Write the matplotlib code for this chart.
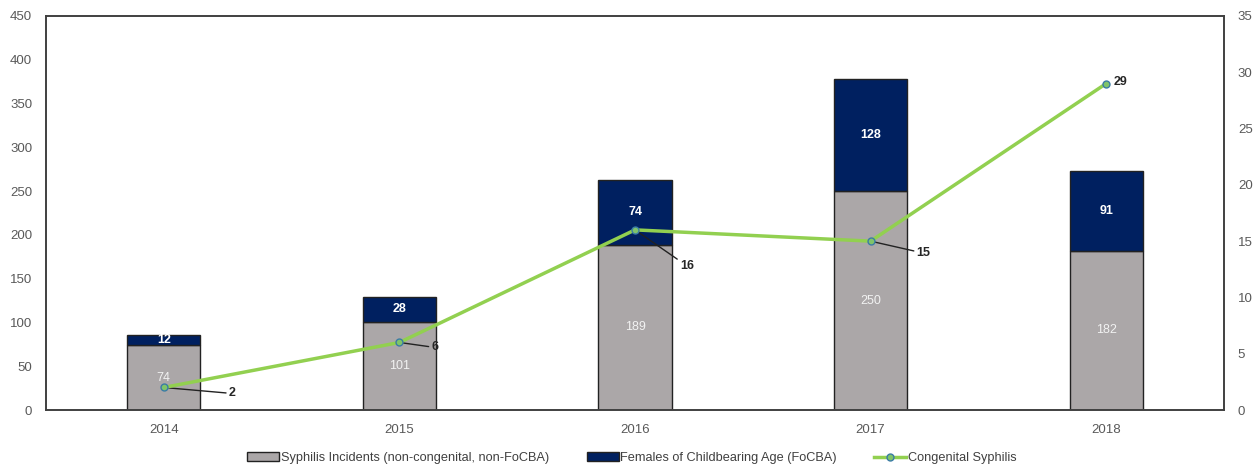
import matplotlib.pyplot as plt
import numpy as np

# Data
years = ['2014', '2015', '2016', '2017', '2018']
incidents = [74, 101, 189, 250, 182]
focba = [12, 28, 74, 128, 91]
congenital = [2, 6, 16, 15, 29]

# label offsets for the congenital line (pixels: right, down)
label_offsets = [(65, 6), (32, 5), (45, 36), (46, 12), (7, -2)]
leader = [True, True, True, True, False]

grey = '#ABA7A8'
navy = '#002060'
green = '#92D050'
text_grey = '#595959'

plt.rcParams['font.family'] = ['Liberation Sans', 'DejaVu Sans']

fig = plt.figure(figsize=(12.54, 4.65), dpi=100)
ax = fig.add_axes([46 / 1254, 55 / 465, 1178 / 1254, 394 / 465])
ax2 = ax.twinx()

x = np.arange(len(years))
w = 0.31
b1 = ax.bar(x, incidents, w, color=grey, edgecolor='#222222', linewidth=1.0,
            label='Syphilis Incidents (non-congenital, non-FoCBA)', zorder=2)
b2 = ax.bar(x, focba, w, bottom=incidents, color=navy, edgecolor='#222222', linewidth=1.0,
            label='Females of Childbearing Age (FoCBA)', zorder=2)

for xi, v in zip(x, incidents):
    ax.text(xi, v / 2, str(v), ha='center', va='center', color='#F2F2F2', fontsize=9)
for xi, b, v in zip(x, incidents, focba):
    ax.text(xi, b + v / 2, str(v), ha='center', va='center', color='white',
            fontsize=9, fontweight='bold')

ax.set_xlim(-0.5, len(years) - 0.5)
ax.set_ylim(0, 450)
ax.set_yticks(range(0, 451, 50))
ax.set_xticks(x)
ax.set_xticklabels(years)

line, = ax2.plot(x, congenital, color=green, linewidth=2.5, marker='o', markersize=5,
                 markerfacecolor='#7FC46A', markeredgecolor='#3A7CA5', markeredgewidth=1.0,
                 label='Congenital Syphilis', zorder=5)
ax2.set_ylim(0, 35)
ax2.set_yticks(range(0, 36, 5))

for xi, v, (dx, dy), has_line in zip(x, congenital, label_offsets, leader):
    arrow = dict(arrowstyle='-', color='#222222', lw=1.0, shrinkA=0, shrinkB=2) if has_line else None
    ax2.annotate(str(v), xy=(xi, v), xytext=(dx * 0.72, -dy * 0.72), textcoords='offset points',
                 ha='left', va='center', fontsize=9, fontweight='bold', color='#262626',
                 arrowprops=arrow)

for a in (ax, ax2):
    a.tick_params(length=0, labelsize=9.5, labelcolor=text_grey)
    for s in a.spines.values():
        s.set_color('#404040')
        s.set_linewidth(1.2)
ax.tick_params(axis='x', pad=10)
ax.tick_params(axis='y', pad=10)
ax2.tick_params(axis='y', pad=10)

handles = [b1, b2, line]
fig.legend(handles, [h.get_label() for h in handles], loc='center', ncol=3,
           bbox_to_anchor=(632 / 1254, 1 - 458 / 465), frameon=False, fontsize=9.2,
           labelcolor='#404040', handlelength=2.5, handletextpad=0.15, columnspacing=2.9)

plt.savefig('out.png', dpi=100)
plt.close()
